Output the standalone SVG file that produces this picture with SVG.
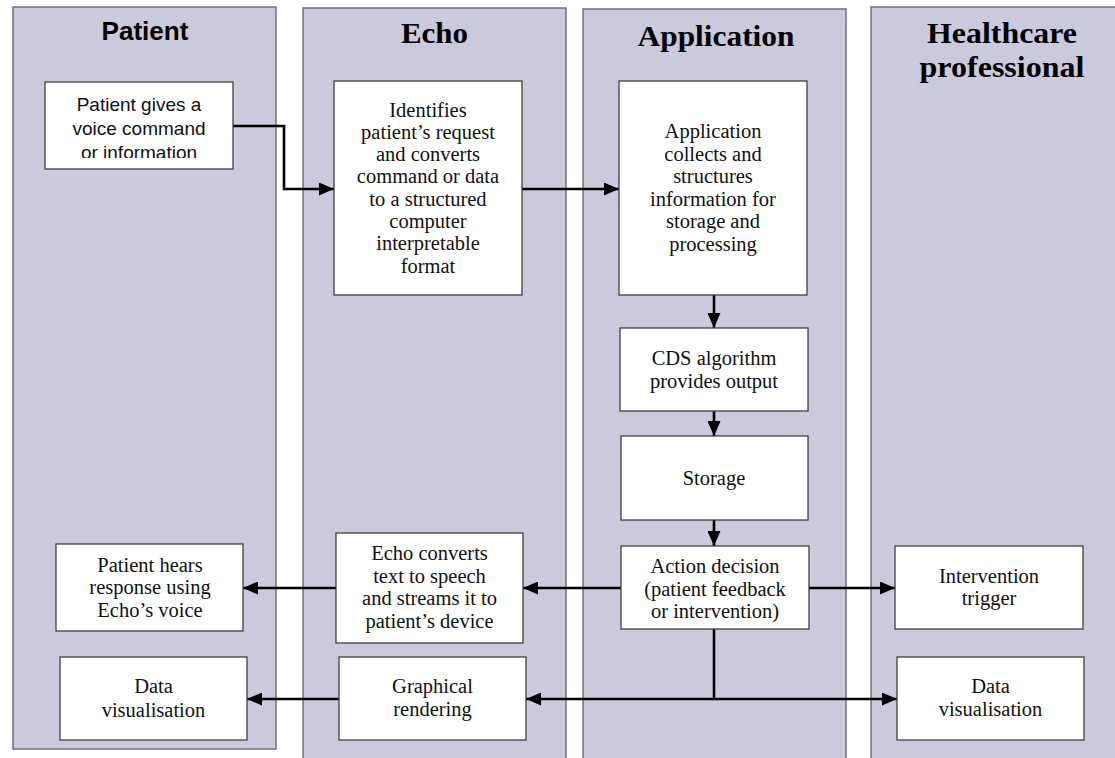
<svg xmlns="http://www.w3.org/2000/svg" width="1115" height="758" viewBox="0 0 1115 758">
<style>
.lane{fill:#cbc9dc;stroke:#70707c;stroke-width:1.5}
.box{fill:#ffffff;stroke:#404040;stroke-width:1.3}
.t{font-family:"Liberation Serif","Times New Roman",serif;font-size:20.5px;fill:#111;text-anchor:middle}
.ts{font-family:"Liberation Sans",Arial,sans-serif;font-size:19px;fill:#111;text-anchor:middle}
.h{font-family:"Liberation Serif","Times New Roman",serif;font-size:29px;font-weight:bold;fill:#000;text-anchor:middle}
.hs{font-family:"Liberation Sans",Arial,sans-serif;font-size:25px;font-weight:bold;fill:#000;text-anchor:middle}
.c{fill:none;stroke:#000;stroke-width:2.6}
</style>
<defs>
<marker id="ah" viewBox="0 0 15 13" refX="15" refY="6.5" markerWidth="15" markerHeight="13" markerUnits="userSpaceOnUse" orient="auto">
<path d="M0,0 L15,6.5 L0,13 Z" fill="#000"/>
</marker>
<clipPath id="clipP"><rect x="45" y="82" width="188" height="76"/></clipPath>
</defs>
<rect width="1115" height="758" fill="#ffffff"/>
<g id="lanes">
<g id="lane-patient"><rect class="lane" x="13" y="7" width="263" height="742"/><text class="hs" x="145" y="40" textLength="87" lengthAdjust="spacingAndGlyphs">Patient</text></g>
<g id="lane-echo"><rect class="lane" x="303" y="8" width="263" height="760"/><text class="h" x="434.5" y="43" textLength="67" lengthAdjust="spacingAndGlyphs">Echo</text></g>
<g id="lane-application"><rect class="lane" x="583" y="9" width="263" height="760"/><text class="h" x="716" y="46" textLength="157" lengthAdjust="spacingAndGlyphs">Application</text></g>
<g id="lane-healthcare"><rect class="lane" x="871" y="7" width="270" height="760"/><text class="h" x="1002" y="43" textLength="150" lengthAdjust="spacingAndGlyphs">Healthcare</text><text class="h" x="1002" y="77" textLength="165" lengthAdjust="spacingAndGlyphs">professional</text></g>
</g>
<g id="connectors">
<path class="c" d="M233,126 H284 V189 H334" marker-end="url(#ah)"/>
<path class="c" d="M522,189 H619" marker-end="url(#ah)"/>
<path class="c" d="M714,295 V328" marker-end="url(#ah)"/>
<path class="c" d="M714,411 V436" marker-end="url(#ah)"/>
<path class="c" d="M714,520 V546" marker-end="url(#ah)"/>
<path class="c" d="M621,588 H523" marker-end="url(#ah)"/>
<path class="c" d="M336,588 H243" marker-end="url(#ah)"/>
<path class="c" d="M809,588 H895" marker-end="url(#ah)"/>
<path class="c" d="M714,629 V699"/>
<path class="c" d="M714,699 H526" marker-end="url(#ah)"/>
<path class="c" d="M714,699 H897" marker-end="url(#ah)"/>
<path class="c" d="M339,699 H247" marker-end="url(#ah)"/>
</g>
<g id="n-patient-voice"><rect class="box" x="45" y="82" width="188" height="87"/>
<g clip-path="url(#clipP)"><text class="ts" x="139" y="111">Patient gives a</text><text class="ts" x="139" y="135">voice command</text><text class="ts" x="139" y="159">or information</text></g></g>
<g id="n-echo-identify"><rect class="box" x="334" y="81" width="188" height="214"/>
<text class="t" x="428" y="117">Identifies</text><text class="t" x="428" y="139">patient’s request</text><text class="t" x="428" y="161">and converts</text><text class="t" x="428" y="183">command or data</text><text class="t" x="428" y="206">to a structured</text><text class="t" x="428" y="228">computer</text><text class="t" x="428" y="250">interpretable</text><text class="t" x="428" y="273">format</text></g>
<g id="n-app-collect"><rect class="box" x="619" y="81" width="188" height="214"/>
<text class="t" x="713" y="138">Application</text><text class="t" x="713" y="161">collects and</text><text class="t" x="713" y="183">structures</text><text class="t" x="713" y="206">information for</text><text class="t" x="713" y="228">storage and</text><text class="t" x="713" y="251">processing</text></g>
<g id="n-cds"><rect class="box" x="620" y="328" width="188" height="83"/>
<text class="t" x="714" y="365">CDS algorithm</text><text class="t" x="714" y="388">provides output</text></g>
<g id="n-storage"><rect class="box" x="621" y="436" width="187" height="84"/>
<text class="t" x="714" y="485">Storage</text></g>
<g id="n-action"><rect class="box" x="621" y="546" width="188" height="83"/>
<text class="t" x="715" y="573">Action decision</text><text class="t" x="715" y="596">(patient feedback</text><text class="t" x="715" y="618">or intervention)</text></g>
<g id="n-echo-tts"><rect class="box" x="336" y="533" width="187" height="110"/>
<text class="t" x="429.5" y="560">Echo converts</text><text class="t" x="429.5" y="583">text to speech</text><text class="t" x="429.5" y="605">and streams it to</text><text class="t" x="429.5" y="628">patient’s device</text></g>
<g id="n-patient-hears"><rect class="box" x="56" y="544" width="187" height="87"/>
<text class="t" x="150" y="572">Patient hears</text><text class="t" x="150" y="594">response using</text><text class="t" x="150" y="617">Echo’s voice</text></g>
<g id="n-graphical"><rect class="box" x="339" y="657" width="187" height="83"/>
<text class="t" x="432.5" y="693">Graphical</text><text class="t" x="432.5" y="716">rendering</text></g>
<g id="n-patient-datavis"><rect class="box" x="60" y="657" width="187" height="83"/>
<text class="t" x="153.5" y="693">Data</text><text class="t" x="153.5" y="717">visualisation</text></g>
<g id="n-intervention"><rect class="box" x="895" y="546" width="188" height="83"/>
<text class="t" x="989" y="583">Intervention</text><text class="t" x="989" y="605">trigger</text></g>
<g id="n-hc-datavis"><rect class="box" x="897" y="657" width="187" height="83"/>
<text class="t" x="990.5" y="693">Data</text><text class="t" x="990.5" y="716">visualisation</text></g>
</svg>
